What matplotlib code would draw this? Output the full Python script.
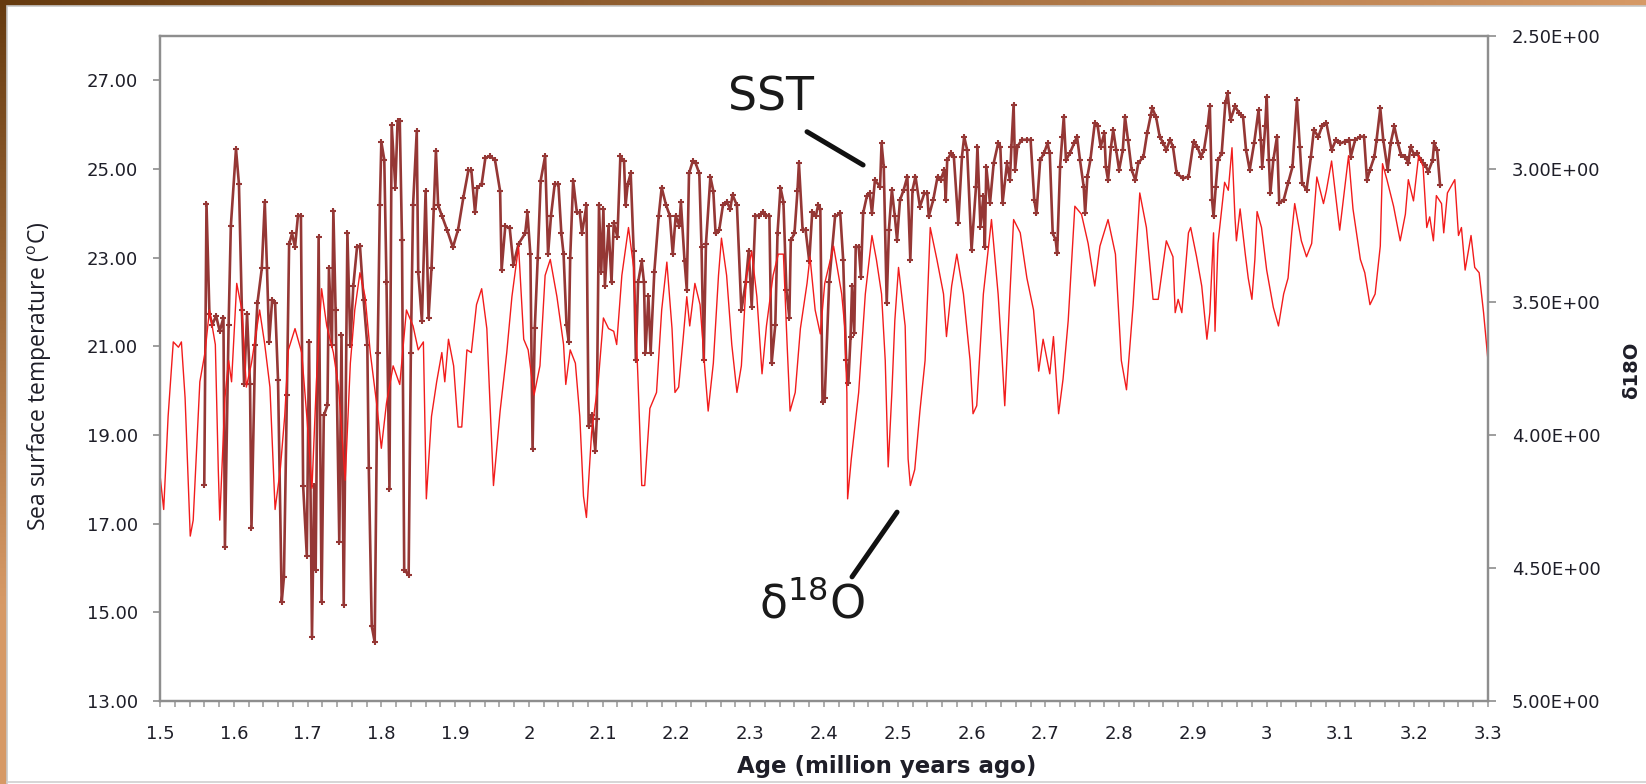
import matplotlib
matplotlib.use('Agg')
import matplotlib.pyplot as plt
import numpy as np
from matplotlib.patches import Rectangle
from matplotlib.ticker import MultipleLocator, FuncFormatter, FormatStrFormatter

# SST record (deg C)
sst_age = [
    1.560, 1.563, 1.567, 1.571, 1.576, 1.581, 1.586, 1.588, 1.593, 1.596,
    1.603, 1.607, 1.611, 1.614, 1.618, 1.622, 1.624, 1.629, 1.632, 1.638,
    1.642, 1.645, 1.648, 1.652, 1.656, 1.660, 1.665, 1.668, 1.672, 1.675,
    1.679, 1.683, 1.687, 1.691, 1.694, 1.699, 1.702, 1.706, 1.709, 1.711,
    1.715, 1.719, 1.722, 1.727, 1.729, 1.733, 1.735, 1.738, 1.743, 1.746,
    1.749, 1.754, 1.758, 1.762, 1.767, 1.771, 1.776, 1.781, 1.783, 1.787,
    1.791, 1.795, 1.798, 1.800, 1.804, 1.807, 1.811, 1.814, 1.819, 1.822,
    1.825, 1.828, 1.831, 1.837, 1.840, 1.843, 1.848, 1.850, 1.855, 1.860,
    1.864, 1.868, 1.871, 1.874, 1.877, 1.882, 1.889, 1.897, 1.904, 1.911,
    1.918, 1.922, 1.927, 1.930, 1.936, 1.941, 1.947, 1.954,
    1.961, 1.963, 1.968, 1.974, 1.979, 1.986, 1.995, 1.998, 2.002, 2.005,
    2.008, 2.012, 2.016, 2.022, 2.026, 2.030, 2.035, 2.040, 2.044, 2.047,
    2.051, 2.054, 2.056, 2.060, 2.065, 2.069, 2.072, 2.078, 2.081, 2.085,
    2.090, 2.092, 2.095, 2.098, 2.101, 2.103, 2.108, 2.112, 2.115, 2.120,
    2.124, 2.129, 2.131, 2.134, 2.138, 2.142, 2.145, 2.148, 2.153, 2.156,
    2.158, 2.162, 2.165, 2.170, 2.176, 2.180, 2.186, 2.191, 2.195, 2.199,
    2.204, 2.206, 2.211, 2.214, 2.217, 2.222, 2.226, 2.231, 2.234, 2.237,
    2.240, 2.246, 2.250, 2.253, 2.258, 2.263, 2.268, 2.273, 2.276, 2.282,
    2.288, 2.294, 2.298, 2.302, 2.307, 2.312, 2.317, 2.321, 2.326, 2.329,
    2.334, 2.337, 2.341, 2.345, 2.349, 2.353, 2.355, 2.360, 2.364, 2.366,
    2.371, 2.375, 2.380, 2.384, 2.389, 2.392, 2.395, 2.398, 2.401, 2.407,
    2.415, 2.422, 2.426, 2.430, 2.433, 2.436, 2.438, 2.441, 2.443, 2.447,
    2.450, 2.453, 2.458, 2.462, 2.465, 2.469, 2.476, 2.478, 2.481, 2.485,
    2.488, 2.492, 2.496, 2.499, 2.503, 2.508, 2.513, 2.517, 2.520, 2.524,
    2.530, 2.536, 2.540, 2.542, 2.548, 2.554, 2.558, 2.563, 2.565, 2.567,
    2.572, 2.576, 2.582, 2.587, 2.590, 2.594, 2.600, 2.606, 2.608, 2.612,
    2.616, 2.618, 2.620, 2.625, 2.630, 2.636, 2.639, 2.642, 2.648, 2.652,
    2.654, 2.657, 2.659, 2.662, 2.668, 2.675, 2.680, 2.685, 2.688, 2.693,
    2.698, 2.703, 2.706, 2.710, 2.714, 2.716, 2.720, 2.723, 2.725, 2.728,
    2.733, 2.739, 2.743, 2.747, 2.752, 2.754, 2.757, 2.761, 2.767, 2.771,
    2.775, 2.780, 2.782, 2.785, 2.789, 2.792, 2.796, 2.800, 2.805, 2.808,
    2.812, 2.817, 2.822, 2.826, 2.833, 2.838, 2.843, 2.845, 2.850,
    2.855, 2.860, 2.864, 2.869, 2.873, 2.878, 2.887, 2.894, 2.901, 2.906,
    2.911, 2.915, 2.920, 2.923, 2.926, 2.928, 2.931, 2.934, 2.939, 2.944,
    2.947, 2.951, 2.957, 2.963, 2.968, 2.972, 2.977, 2.983, 2.989, 2.992,
    2.994, 2.998, 3.000, 3.003, 3.005, 3.009, 3.014, 3.017, 3.023, 3.029,
    3.035, 3.041, 3.045, 3.048, 3.054, 3.060, 3.064, 3.070, 3.075, 3.081,
    3.088, 3.094, 3.100, 3.106, 3.112, 3.114, 3.120, 3.127, 3.132, 3.136,
    3.140, 3.146, 3.149, 3.154, 3.158, 3.164, 3.168, 3.173, 3.178, 3.182,
    3.188, 3.192, 3.195, 3.200, 3.204, 3.209, 3.215, 3.219, 3.225, 3.227,
    3.231, 3.235,
]
sst_temp = [
    17.88, 24.22, 21.73, 21.49, 21.69, 21.34, 21.65, 16.47, 21.49, 23.71,
    25.45, 24.66, 21.81, 20.15, 21.73, 20.15, 16.91, 21.02, 21.97, 22.76,
    24.26, 22.76, 21.10, 22.05, 21.97, 20.23, 15.24, 15.80, 19.91, 23.31,
    23.55, 23.23, 23.95, 23.95, 17.86, 16.27, 21.10, 14.45, 17.86, 15.96,
    23.47, 15.24, 19.44, 19.67, 22.76, 21.02, 24.06, 21.81, 16.59, 21.26,
    15.17, 23.55, 21.02, 22.36, 23.23, 23.27, 22.05, 21.02, 18.25, 14.69,
    14.33, 20.86, 24.18, 25.61, 25.21, 22.44, 17.78, 26.00, 24.58, 26.08,
    26.08, 23.39, 15.96, 15.84, 20.86, 24.18, 25.85, 22.68, 21.57, 24.50,
    21.65, 22.76, 24.10, 25.41, 24.18, 23.95, 23.63, 23.23, 23.63, 24.34,
    24.97, 24.97, 24.02, 24.58, 24.66, 25.25, 25.29, 25.21,
    24.50, 22.72, 23.71, 23.67, 22.84, 23.31, 23.55, 24.02, 23.08, 18.69,
    21.41, 23.00, 24.74, 25.29, 23.08, 23.95, 24.66, 24.66, 23.55, 23.08,
    21.49, 21.10, 23.00, 24.74, 24.02, 24.02, 23.55, 24.18, 19.20, 19.44,
    18.65, 19.36, 24.18, 22.68, 24.10, 22.36, 23.71, 22.44, 23.79, 23.47,
    25.29, 25.17, 24.18, 24.66, 24.90, 23.16, 20.70, 22.44, 22.92, 22.44,
    20.86, 22.13, 20.86, 22.68, 23.95, 24.58, 24.18, 23.95, 23.08, 23.95,
    23.71, 24.26, 22.92, 22.28, 24.90, 25.17, 25.13, 24.90, 23.23, 20.70,
    23.31, 24.82, 24.50, 23.55, 23.63, 24.18, 24.26, 24.10, 24.42, 24.18,
    21.81, 22.44, 23.16, 21.89, 23.95, 23.95, 24.02, 23.95, 23.95, 20.62,
    21.49, 23.55, 24.58, 24.26, 22.28, 21.65, 23.39, 23.55, 24.50, 25.13,
    23.63, 23.63, 22.92, 24.02, 23.95, 24.18, 24.10, 19.75, 19.83, 22.44,
    23.93, 24.00, 22.95, 20.69, 20.17, 21.22, 22.35, 21.29, 23.25, 23.25,
    22.57, 24.00, 24.38, 24.45, 24.00, 24.75, 24.60, 25.58, 25.05, 21.97,
    23.63, 24.53, 23.93, 23.40, 24.30, 24.53, 24.83, 22.95, 24.53, 24.83,
    24.15, 24.45, 24.45, 23.93, 24.30, 24.83, 24.75, 24.98, 24.30, 25.20,
    25.35, 25.28, 23.78, 25.28, 25.73, 25.43, 23.17, 24.60, 25.50, 23.70,
    24.38, 23.25, 25.05, 24.23, 25.13, 25.58, 25.50, 24.23, 25.13, 24.75,
    25.50, 26.45, 24.98, 25.50, 25.66, 25.66, 25.66, 24.30, 24.00, 25.20,
    25.35, 25.58, 25.35, 23.55, 23.40, 23.10, 25.05, 25.73, 26.18, 25.20,
    25.35, 25.58, 25.73, 25.20, 24.60, 24.00, 24.83, 25.20, 26.03, 25.96,
    25.50, 25.81, 25.05, 24.75, 25.50, 25.88, 25.43, 24.98, 25.43, 26.18,
    25.66, 24.98, 24.75, 25.13, 25.28, 25.81, 26.22, 26.37, 26.18,
    25.73, 25.58, 25.43, 25.66, 25.50, 24.90, 24.79, 24.83, 25.62, 25.50,
    25.28, 25.43, 25.96, 26.41, 24.30, 23.93, 24.60, 25.20, 25.35, 26.48,
    26.71, 26.11, 26.41, 26.26, 26.18, 25.43, 24.98, 25.58, 26.33, 25.66,
    25.05, 25.96, 26.63, 25.20, 24.45, 25.20, 25.73, 24.23, 24.30, 24.68,
    25.05, 26.56, 25.50, 24.68, 24.53, 25.28, 25.88, 25.73, 25.96, 26.03,
    25.43, 25.66, 25.58, 25.62, 25.66, 25.28, 25.66, 25.73, 25.73, 24.75,
    24.98, 25.28, 25.66, 26.37, 25.66, 24.98, 25.58, 25.96, 25.58, 25.32,
    25.28, 25.13, 25.50, 25.32, 25.35, 25.20, 25.09, 24.94, 25.20, 25.58,
    25.43, 24.64,
]

# benthic d18O record (per mil), plotted on the reversed right axis
d18o_age = [
    1.500, 1.505, 1.511, 1.518, 1.525, 1.529, 1.534, 1.541, 1.545, 1.554,
    1.561, 1.567, 1.575, 1.579, 1.581, 1.588, 1.593, 1.597, 1.604, 1.611,
    1.617, 1.624, 1.635, 1.642, 1.649, 1.656, 1.663, 1.669, 1.674, 1.683,
    1.692, 1.699, 1.706, 1.712, 1.719, 1.726, 1.735, 1.742, 1.751, 1.758,
    1.764, 1.771, 1.778, 1.785, 1.794, 1.800, 1.807, 1.816, 1.825, 1.834,
    1.843, 1.850, 1.857, 1.861, 1.868, 1.875, 1.882, 1.886, 1.891, 1.898,
    1.904, 1.909, 1.916, 1.922, 1.929, 1.936, 1.943, 1.947, 1.952,
    1.961, 1.970, 1.977, 1.986, 1.993, 1.999, 2.007, 2.015, 2.022, 2.029,
    2.038, 2.047, 2.050, 2.056, 2.063, 2.069, 2.074, 2.078, 2.085, 2.094,
    2.101, 2.108, 2.115, 2.119, 2.126, 2.135, 2.142, 2.148, 2.153, 2.157,
    2.164, 2.173, 2.180, 2.187, 2.194, 2.198, 2.203, 2.209, 2.214, 2.218,
    2.225, 2.232, 2.239, 2.243, 2.250, 2.257, 2.261, 2.268, 2.275, 2.282,
    2.288, 2.295, 2.302, 2.309, 2.316, 2.322, 2.331, 2.338, 2.345, 2.350,
    2.354, 2.361, 2.368, 2.377, 2.381, 2.388, 2.395, 2.401, 2.413,
    2.424, 2.428, 2.431, 2.432, 2.437, 2.447, 2.456, 2.465, 2.471, 2.478,
    2.483, 2.487, 2.492, 2.496, 2.501, 2.510, 2.514, 2.517, 2.523, 2.530,
    2.537, 2.544, 2.553, 2.562, 2.566, 2.573, 2.580, 2.589, 2.598, 2.602,
    2.607, 2.616, 2.627, 2.636, 2.641, 2.645, 2.652, 2.657, 2.666, 2.675,
    2.684, 2.691, 2.697, 2.706, 2.711, 2.718, 2.724, 2.731, 2.740, 2.749,
    2.758, 2.767, 2.774, 2.785, 2.795, 2.803, 2.810, 2.819, 2.828, 2.837,
    2.846, 2.853,
    2.864, 2.873, 2.876, 2.880, 2.885, 2.894, 2.897, 2.905, 2.912, 2.919,
    2.923, 2.928, 2.930, 2.934, 2.943, 2.948, 2.953, 2.957, 2.959, 2.964,
    2.971, 2.975, 2.980, 2.984, 2.987, 2.993, 3.000, 3.009, 3.016, 3.023,
    3.029, 3.034, 3.038, 3.047, 3.054, 3.061, 3.068, 3.077, 3.081, 3.088,
    3.099, 3.111, 3.117, 3.127, 3.133, 3.140, 3.147, 3.154, 3.157, 3.163,
    3.172, 3.181, 3.188, 3.192, 3.199, 3.206, 3.212, 3.217, 3.221, 3.226,
    3.230, 3.237, 3.240, 3.245, 3.255, 3.260, 3.264, 3.269, 3.277, 3.282,
    3.288, 3.294, 3.300,
]
d18o_val = [
    4.15, 4.28, 3.93, 3.65, 3.67, 3.65, 3.86, 4.38, 4.32, 3.80,
    3.69, 3.53, 3.66, 4.13, 4.32, 3.86, 3.72, 3.80, 3.43, 3.53,
    3.82, 3.73, 3.53, 3.66, 3.82, 4.28, 4.13, 3.93, 3.68, 3.60,
    3.69, 3.93, 4.20, 3.80, 3.45, 3.59, 3.69, 3.82, 4.17, 3.73,
    3.53, 3.39, 3.48, 3.69, 3.89, 4.05, 3.88, 3.74, 3.81, 3.53,
    3.59, 3.68, 3.65, 4.24, 3.93, 3.80, 3.69, 3.80, 3.64, 3.74,
    3.97, 3.97, 3.68, 3.69, 3.51, 3.45, 3.60, 3.86, 4.19,
    3.91, 3.69, 3.48, 3.29, 3.64, 3.68, 3.85, 3.74, 3.40, 3.34,
    3.48, 3.66, 3.81, 3.68, 3.73, 3.93, 4.23, 4.31, 3.99, 3.80,
    3.56, 3.60, 3.61, 3.66, 3.40, 3.22, 3.37, 3.80, 4.19, 4.19,
    3.90, 3.84, 3.53, 3.35, 3.60, 3.84, 3.82, 3.64, 3.48, 3.59,
    3.43, 3.51, 3.77, 3.91, 3.73, 3.40, 3.26, 3.40, 3.66, 3.84,
    3.74, 3.40, 3.31, 3.48, 3.77, 3.59, 3.40, 3.32, 3.32, 3.66,
    3.91, 3.84, 3.60, 3.43, 3.33, 3.53, 3.62, 3.43, 3.29,
    3.47, 3.59, 3.84, 4.24, 4.09, 3.84, 3.47, 3.25, 3.34, 3.47,
    3.72, 4.12, 3.84, 3.57, 3.37, 3.59, 4.09, 4.19, 4.13, 3.91,
    3.72, 3.22, 3.34, 3.47, 3.63, 3.44, 3.32, 3.47, 3.72, 3.92,
    3.89, 3.47, 3.19, 3.47, 3.69, 3.89, 3.47, 3.19, 3.24, 3.41,
    3.53, 3.76, 3.64, 3.77, 3.63, 3.92, 3.79, 3.57, 3.14, 3.17,
    3.28, 3.44, 3.29, 3.19, 3.32, 3.72, 3.83, 3.51, 3.09, 3.22,
    3.49, 3.49,
    3.27, 3.33, 3.54, 3.49, 3.54, 3.24, 3.22, 3.33, 3.44, 3.64,
    3.54, 3.24, 3.61, 3.28, 3.05, 3.08, 2.92, 3.18, 3.27, 3.15,
    3.32, 3.41, 3.49, 3.34, 3.16, 3.22, 3.38, 3.52, 3.59, 3.47,
    3.41, 3.24, 3.13, 3.27, 3.33, 3.28, 3.03, 3.13, 3.08, 2.97,
    3.23, 2.95, 3.15, 3.34, 3.39, 3.51, 3.47, 3.29, 2.98, 3.04,
    3.14, 3.27, 3.17, 3.04, 3.12, 2.95, 2.99, 3.22, 3.18, 3.27,
    3.10, 3.13, 3.24, 3.09, 3.04, 3.25, 3.22, 3.38, 3.25, 3.37,
    3.39, 3.54, 3.72,
]

temp_ticks = [13, 15, 17, 19, 21, 23, 25, 27]
d18o_ticks = [2.5, 3.0, 3.5, 4.0, 4.5, 5.0]

W, H = 1646, 784
SST_COLOR = '#953735'
D18O_COLOR = '#f21c1c'
SPINE = '#8e8e8e'
TXT = '#1e1e28'

fig = plt.figure(figsize=(W / 100, H / 100), dpi=100)

# brown slide frame behind a white panel
bg = fig.add_axes([0, 0, 1, 1], zorder=-10)
yy, xx = np.mgrid[0:1:200j, 0:1:400j]
t = np.clip(xx * 1.0 + yy * 1.3, 0, 1)[..., None]
dark = np.array([0.40, 0.23, 0.06])
light = np.array([0.84, 0.60, 0.40])
bg.imshow(dark + (light - dark) * t, extent=[0, 1, 0, 1], aspect='auto',
          origin='upper')
bg.add_patch(Rectangle((7 / W, -0.01), 1, 1.01 - 6 / H, facecolor='white',
                       edgecolor='#c8c8c8', lw=1.2))
bg.axhline(2.5 / H, xmin=7 / W, color='#cfcfcf', lw=1.2)
bg.set_xlim(0, 1)
bg.set_ylim(0, 1)
bg.axis('off')

ax = fig.add_axes([160 / W, 1 - 701 / H, (1488 - 160) / W, (701 - 36) / H])
ax.plot(sst_age, sst_temp, color=SST_COLOR, lw=1.9, marker='+', ms=5,
        mew=1.5)
ax.set_xlim(1.5, 3.3)
ax.set_ylim(13, 28)

ax2 = ax.twinx()
ax2.plot(d18o_age, d18o_val, color=D18O_COLOR, lw=1.0)
ax2.set_ylim(5.0, 2.5)

for a in (ax, ax2):
    for s in a.spines.values():
        s.set_color(SPINE)
        s.set_linewidth(1.6)

ax.set_yticks(temp_ticks)
ax.yaxis.set_major_formatter(FormatStrFormatter('%.2f'))
ax.tick_params(axis='y', direction='out', length=5, width=1.2, color=SPINE,
               labelsize=13, labelcolor=TXT, pad=11)
ax.xaxis.set_major_locator(MultipleLocator(0.1))
ax.xaxis.set_minor_locator(MultipleLocator(0.02))
ax.xaxis.set_major_formatter(FuncFormatter(lambda v, p: f'{round(v, 1):g}'))
ax.tick_params(axis='x', which='both', direction='out', length=4, width=1.2,
               color='#a0a0a0', labelsize=13, labelcolor=TXT, pad=13)

ax2.set_yticks(d18o_ticks)
ax2.yaxis.set_major_formatter(FormatStrFormatter('%.2E'))
ax2.tick_params(axis='y', direction='out', length=6, width=1.2, color=SPINE,
                labelsize=13, labelcolor=TXT, pad=11)

fig.text(40 / W, 1 - 376 / H,
         r'Sea surface temperature ($^{\mathregular{o}}$C)',
         rotation=90, ha='center', va='center', fontsize=16.5,
         family='Open Sans', color=TXT)
fig.text(887 / W, 1 - 766 / H, 'Age (million years ago)', ha='center',
         va='center', fontsize=16.5, fontweight='bold', color=TXT)
fig.text(1632 / W, 1 - 370 / H, 'δ18O', rotation=90, ha='center',
         va='center', fontsize=14, fontweight='bold', color=TXT)

# callouts, placed in age / temperature units
ax2.text(2.328, 26.60, 'SST', transform=ax.transData, fontsize=33,
         ha='center', va='center', color='#1a1a1a')
ax2.annotate('', xy=(2.453, 25.09), xytext=(2.377, 25.84),
             xycoords=ax.transData, textcoords=ax.transData,
             arrowprops=dict(arrowstyle='-', lw=3.6, color='#111111',
                             shrinkA=0, shrinkB=0))
ax2.text(2.384, 15.17, r'δ$^{\mathregular{18}}$O', transform=ax.transData,
         fontsize=33, ha='center', va='center', color='#1a1a1a')
ax2.annotate('', xy=(2.499, 17.26), xytext=(2.438, 15.80),
             xycoords=ax.transData, textcoords=ax.transData,
             arrowprops=dict(arrowstyle='-', lw=3.6, color='#111111',
                             shrinkA=0, shrinkB=0))

fig.savefig('out.png', dpi=100)
plt.close(fig)
